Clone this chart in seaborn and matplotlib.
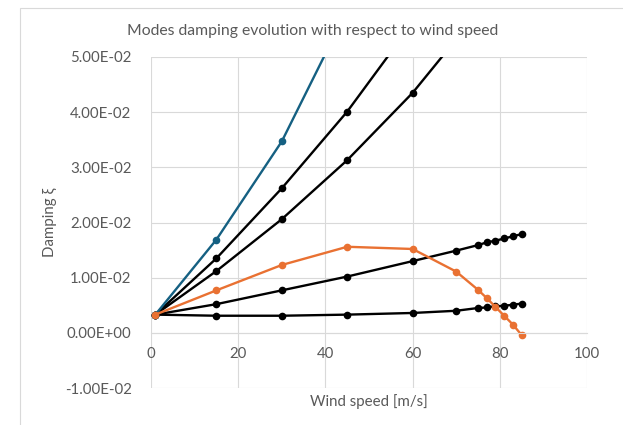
import numpy as np
import pandas as pd
import matplotlib
matplotlib.use("Agg")
import matplotlib.pyplot as plt
import seaborn as sns
from matplotlib.patches import Rectangle

# ---- data ----
x_blue = [1, 15, 30, 45]
y_blue = [0.0033, 0.0169, 0.0347, 0.0585]

x_k1 = [1, 15, 30, 45, 60]
y_k1 = [0.0033, 0.0135, 0.0262, 0.0401, 0.0562]

x_k2 = [1, 15, 30, 45, 60, 70]
y_k2 = [0.0033, 0.0112, 0.0206, 0.0313, 0.0435, 0.0532]

x_long = [1, 15, 30, 45, 60, 70, 75, 77, 79, 81, 83, 85]
y_k3 = [0.0033, 0.0052, 0.0077, 0.0102, 0.0130, 0.0149, 0.0159, 0.0164, 0.0167, 0.0171, 0.0175, 0.0179]
y_k4 = [0.0033, 0.0031, 0.0031, 0.0033, 0.0036, 0.0040, 0.0045, 0.0046, 0.0048, 0.0049, 0.0051, 0.0053]
y_orange = [0.0033, 0.0077, 0.0123, 0.0156, 0.0152, 0.0111, 0.0078, 0.0063, 0.0047, 0.0031, 0.0015, -0.0004]

x_ticks = [0, 20, 40, 60, 80, 100]
y_ticks = [-0.01, 0.0, 0.01, 0.02, 0.03, 0.04, 0.05]
y_tick_labels = ["-1.00E-02", "0.00E+00", "1.00E-02", "2.00E-02", "3.00E-02", "4.00E-02", "5.00E-02"]

title = "Modes damping evolution with respect to wind speed"
xlabel = "Wind speed [m/s]"
ylabel = "Damping ξ"

BLUE = "#156082"
ORANGE = "#E97132"
BLACK = "#000000"
TXT = "#595959"
GRID = "#D9D9D9"

sns.set_theme(style="white")
plt.rcParams["font.family"] = ["Lato", "DejaVu Sans"]

W, H = 623, 425
fig = plt.figure(figsize=(W / 100, H / 100), dpi=100)
fig.patch.set_facecolor("white")

x0, x1 = 151, 587
yt, yb = 57, 388
ax = fig.add_axes([x0 / W, 1 - yb / H, (x1 - x0) / W, (yb - yt) / H])

series = [
    (x_k1, y_k1, BLACK),
    (x_k2, y_k2, BLACK),
    (x_long, y_k3, BLACK),
    (x_long, y_k4, BLACK),
    (x_blue, y_blue, BLUE),
    (x_long, y_orange, ORANGE),
]
for xs, ys, c in series:
    sns.lineplot(x=xs, y=ys, ax=ax, color=c, lw=1.7, marker="o",
                 markersize=5.5, markeredgewidth=0, sort=False,
                 estimator=None, legend=False)

ax.set_xlim(0, 100)
ax.set_ylim(-0.01, 0.05)
ax.set_xticks(x_ticks)
ax.set_xticklabels([str(v) for v in x_ticks])
ax.set_yticks(y_ticks)
ax.set_yticklabels(y_tick_labels)
ax.grid(True, color=GRID, lw=0.8)
ax.set_axisbelow(True)
for s in ["top", "right", "left"]:
    ax.spines[s].set_visible(False)
ax.spines["bottom"].set_position(("data", 0))
ax.spines["bottom"].set_color(GRID)
ax.spines["bottom"].set_linewidth(0.8)
ax.tick_params(axis="x", length=0, pad=10, labelsize=10.8, labelcolor=TXT)
ax.tick_params(axis="y", length=0, pad=14, labelsize=10.8, labelcolor=TXT)
ax.set_xlabel("")
ax.set_ylabel("")

fig.text(313 / W, 1 - 31 / H, title, ha="center", va="center", fontsize=11.3, color=TXT)
fig.text((x0 + x1) / 2 / W, 1 - 402 / H, xlabel, ha="center", va="center", fontsize=10.8, color=TXT)
fig.text(50 / W, 1 - ((yt + yb) / 2) / H, ylabel, ha="center", va="center", rotation=90, fontsize=10.8, color=TXT)

fig.patches.append(Rectangle((20 / W, -0.1), 1.0, 1 - 8 / H + 0.1, transform=fig.transFigure,
                             fill=False, edgecolor=GRID, lw=0.8))

fig.savefig("out.png", dpi=100)
